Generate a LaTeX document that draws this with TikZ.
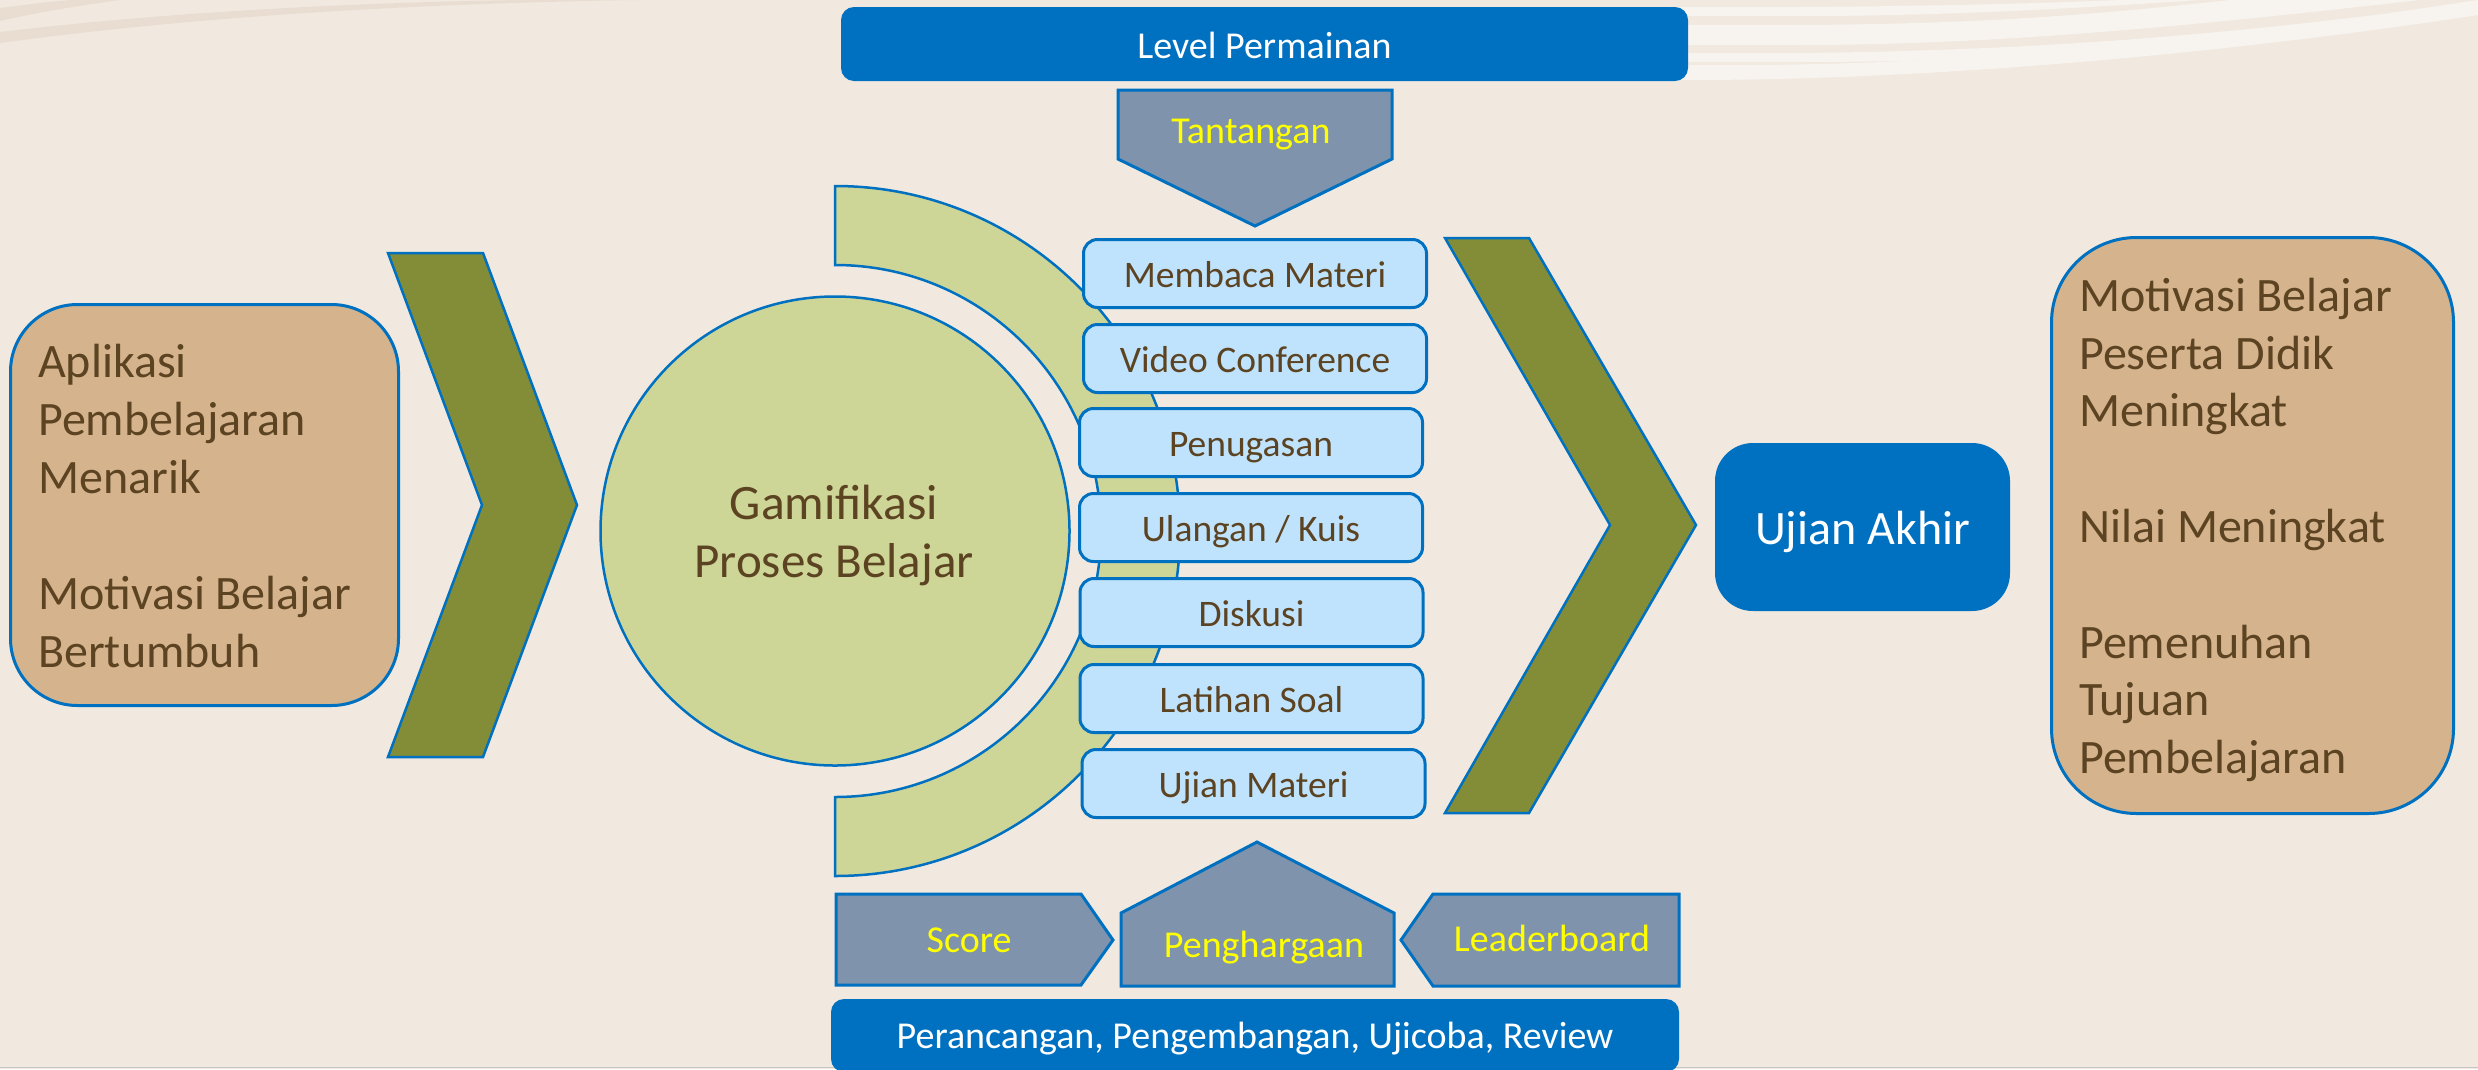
\documentclass[tikz,border=0pt]{standalone}
\usepackage{fontspec}
\setmainfont{Carlito}
\definecolor{bg}{HTML}{F1E9E0}
\definecolor{swl}{HTML}{E8DDD0}
\definecolor{swr}{HTML}{F7F3EE}
\definecolor{tanc}{HTML}{D5B48D}
\definecolor{olivec}{HTML}{838D38}
\definecolor{lgreen}{HTML}{CDD597}
\definecolor{lblue}{HTML}{BFE3FC}
\definecolor{bord}{HTML}{0070C0}
\definecolor{dblue}{HTML}{0070C0}
\definecolor{slate}{HTML}{7F93AD}
\definecolor{brn}{HTML}{5C4322}
\definecolor{yel}{HTML}{FFFF00}
\tikzset{
  bigtext/.style={font=\fontsize{48}{58}\selectfont, text=brn, inner sep=0pt},
  tanbox/.style={draw=bord, line width=3pt, fill=tanc, inner sep=0pt},
  btn/.style={draw=bord, line width=3pt, fill=lblue, rounded corners=14pt,
    minimum width=343pt, minimum height=68pt, text=brn,
    font=\fontsize{37.5}{40}\selectfont, text height=30pt, text depth=3pt, inner sep=0pt},
  chev/.style={draw=bord, line width=2.5pt, fill=olivec},
  penta/.style={draw=bord, line width=3pt, fill=slate},
  lbl/.style={text=yel, font=\fontsize{38}{44}\selectfont, inner sep=0pt, anchor=base},
  dbox/.style={fill=dblue, text=white, inner sep=0pt}
}
\begin{document}
\begin{tikzpicture}[x=1pt,y=1pt]
\useasboundingbox (0,0) rectangle (2478,-1069);
\fill[bg] (0,0) rectangle (2478,-1069);
% background swooshes, left
\fill[swl] (0,-8) .. controls (25,-5) and (45,-2) .. (70,0) -- (120,0) .. controls (70,-7) and (35,-13) .. (0,-21) -- cycle;
\fill[swl] (0,-32) .. controls (150,-14) and (330,-3) .. (520,0) -- (640,0) .. controls (380,-4) and (170,-20) .. (0,-43) -- cycle;
% background swooshes, right
\fill[swr] (1600,-7) -- (1800,-7) .. controls (1950,-6) and (2050,-3) .. (2120,0) -- (2200,0) .. controls (2080,-8) and (1950,-16) .. (1800,-16) -- (1600,-16) -- cycle;
\fill[swr] (1600,-25) -- (1800,-25) .. controls (2000,-24) and (2120,-12) .. (2230,0) -- (2420,0) .. controls (2200,-25) and (2000,-45) .. (1800,-45) -- (1600,-45) -- cycle;
\fill[swr] (1600,-53) -- (1800,-53) .. controls (2100,-50) and (2300,-25) .. (2478,-2) -- (2478,-8) .. controls (2300,-35) and (2100,-62) .. (1800,-62) -- (1600,-62) -- cycle;
\fill[swr] (1600,-65) -- (1750,-65) .. controls (2000,-64) and (2250,-35) .. (2478,0) -- (2478,-15) .. controls (2250,-50) and (1950,-80) .. (1690,-80) -- (1600,-80) -- cycle;
\draw[gray!45, line width=1.5pt] (0,-1067.5) -- (2478,-1067.5);

% top bar and Tantangan
\node[dbox, rounded corners=13pt, minimum width=847pt, minimum height=74pt,
  font=\fontsize{38}{44}\selectfont, text height=30pt, text depth=2pt] (level) at (1264.5,-44) {Level Permainan};
\draw[penta] (1118,-90) -- (1392,-90) -- (1392,-159) -- (1255,-226) -- (1118,-159) -- cycle;
\node[lbl] (tant) at (1251,-143) {Tantangan};

% left box
\node[tanbox, rounded corners=67pt, minimum width=388pt, minimum height=401pt] (lbox) at (204.5,-505) {};
\foreach \t/\yy [count=\i] in {Aplikasi/377, Pembelajaran/435, Menarik/493, Motivasi Belajar/609, Bertumbuh/667}
  \node[bigtext, anchor=base west] (l\i) at (38,-\yy) {\t};

% chevrons
\draw[chev] (388,-253) -- (483,-253) -- (577,-505) -- (483,-757) -- (388,-757) -- (482,-505) -- cycle;
\draw[chev] (1445,-238) -- (1529,-238) -- (1696,-525) -- (1529,-813) -- (1445,-813) -- (1610,-525) -- cycle;

% block arc and circle
\path[draw=bord, line width=2.5pt, fill=lgreen] (835,-186) arc[start angle=90, end angle=-90, radius=345]
  -- (835,-797) arc[start angle=-90, end angle=90, radius=266] -- cycle;
\node[circle, draw=bord, line width=2.5pt, fill=lgreen, minimum size=469pt, inner sep=0pt] (circ) at (835,-531) {};
\node[bigtext, font=\fontsize{49.5}{58}\selectfont, anchor=base] (g1) at (834,-519) {Gamifikasi};
\node[bigtext, font=\fontsize{49}{58}\selectfont, anchor=base] (g2) at (834,-577) {Proses Belajar};

% activity buttons
\node[btn] (b1) at (1255,-273.5) {Membaca Materi};
\node[btn] (b2) at (1255,-358.5) {Video Conference};
\node[btn] (b3) at (1251,-442.5) {Penugasan};
\node[btn] (b4) at (1251,-527.5) {Ulangan / Kuis};
\node[btn] (b5) at (1251.5,-612.5) {Diskusi};
\node[btn] (b6) at (1251.5,-698.5) {Latihan Soal};
\node[btn] (b7) at (1253.5,-783.5) {Ujian Materi};

% bottom shapes
\draw[penta] (836,-894) -- (1081,-894) -- (1113,-940) -- (1081,-985) -- (836,-985) -- cycle;
\draw[penta] (1121,-986) -- (1121,-913) -- (1257,-842) -- (1394,-913) -- (1394,-986) -- cycle;
\draw[penta] (1679,-894) -- (1433,-894) -- (1401,-940) -- (1433,-986) -- (1679,-986) -- cycle;
\node[lbl] (score) at (969,-952) {Score};
\node[lbl] (peng) at (1264,-957) {Penghargaan};
\node[lbl] (lead) at (1552,-951) {Leaderboard};
\node[dbox, rounded corners=13pt, minimum width=848pt, minimum height=73pt,
  font=\fontsize{38}{44}\selectfont, text height=27pt, text depth=2pt] (bar) at (1255,-1035.5) {Perancangan, Pengembangan, Ujicoba, Review};

% Ujian Akhir
\node[dbox, rounded corners=38pt, minimum width=295pt, minimum height=168pt,
  font=\fontsize{48}{58}\selectfont, text height=36pt, text depth=2pt] (akhir) at (1862.5,-527) {Ujian Akhir};

% right box
\node[tanbox, rounded corners=85pt, minimum width=402pt, minimum height=576pt] (rbox) at (2252.5,-525.5) {};
\foreach \t/\yy [count=\i] in {Motivasi Belajar/311, Peserta Didik/369, Meningkat/426, Nilai Meningkat/542, Pemenuhan/658, Tujuan/715, Pembelajaran/773}
  \node[bigtext, anchor=base west] (r\i) at (2079,-\yy) {\t};
\end{tikzpicture}
\end{document}
